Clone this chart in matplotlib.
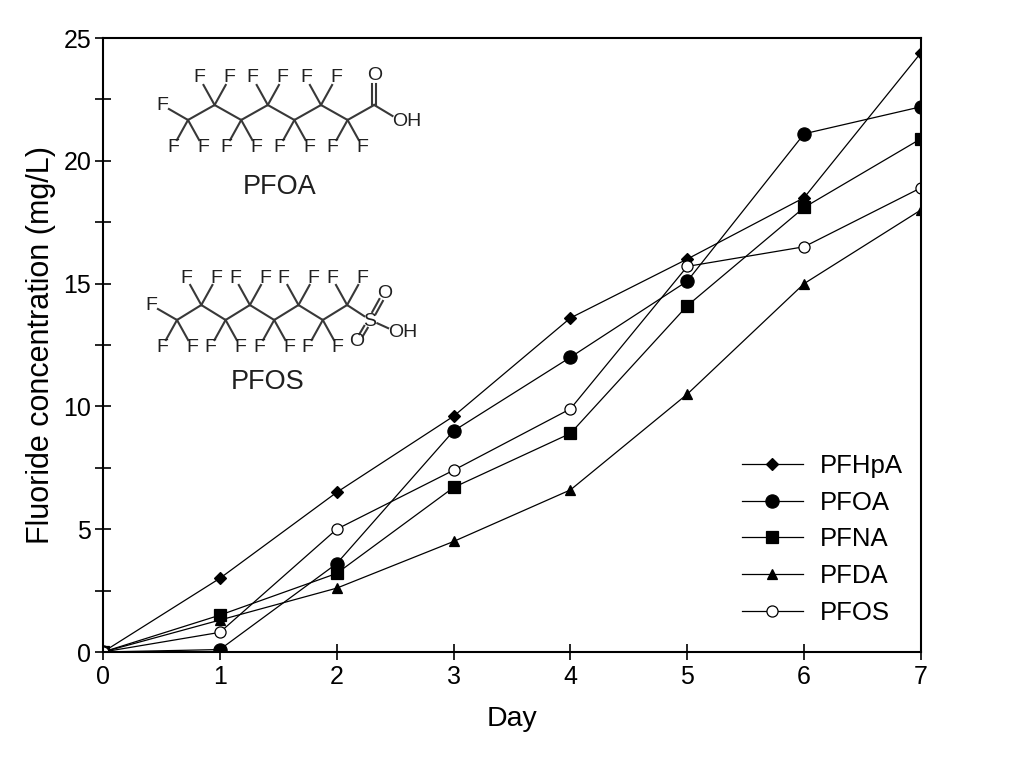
import numpy as np
import matplotlib
matplotlib.use('Agg')
import matplotlib.pyplot as plt
from matplotlib.ticker import MultipleLocator

plt.rcParams['font.family'] = ['Liberation Sans', 'DejaVu Sans']

# Data
days = [0, 1, 2, 3, 4, 5, 6, 7]
pfhpa = [0, 3.0, 6.5, 9.6, 13.6, 16.0, 18.5, 24.4]
pfoa = [0, 0.1, 3.6, 9.0, 12.0, 15.1, 21.1, 22.2]
pfna = [0, 1.5, 3.2, 6.7, 8.9, 14.1, 18.1, 20.9]
pfda = [0, 1.3, 2.6, 4.5, 6.6, 10.5, 15.0, 18.0]
pfos = [0, 0.8, 5.0, 7.4, 9.9, 15.7, 16.5, 18.9]

series_names = ['PFHpA', 'PFOA', 'PFNA', 'PFDA', 'PFOS']
series_values = [pfhpa, pfoa, pfna, pfda, pfos]
markers = ['D', 'o', 's', '^', 'o']
marker_sizes = [6, 9.5, 8.5, 6.5, 8]
face_colors = ['black', 'black', 'black', 'black', 'white']

W, H = 1024, 768
fig = plt.figure(figsize=(W / 100, H / 100), dpi=100)
ax = fig.add_axes([103 / W, 1 - 652 / H, (921 - 103) / W, (652 - 38) / H])

for name, vals, m, ms, fc in zip(series_names, series_values, markers, marker_sizes, face_colors):
    ax.plot(days, vals, color='black', lw=0.9, marker=m, ms=ms,
            mfc=fc, mec='black', mew=0.9, label=name)

ax.set_xlim(0, 7)
ax.set_ylim(0, 25)
ax.xaxis.set_major_locator(MultipleLocator(1))
ax.yaxis.set_major_locator(MultipleLocator(5))
ax.yaxis.set_minor_locator(MultipleLocator(2.5))
ax.tick_params(which='both', direction='inout', length=11, width=1.2,
               labelsize=18, top=False, right=False)
ax.tick_params(axis='x', pad=4)
ax.tick_params(axis='y', pad=3)
for sp in ax.spines.values():
    sp.set_linewidth(1.5)

ax.set_xlabel('Day', fontsize=20.5, labelpad=12)
ax.set_ylabel('Fluoride concentration (mg/L)', fontsize=22, labelpad=5)

ax.legend(loc='lower left', bbox_to_anchor=(0.7686, 0.027), frameon=False,
          fontsize=18.5, handlelength=2.37, handletextpad=0.66,
          labelspacing=0.5, borderaxespad=0, borderpad=0.4)


# ---- chemical structure sketches, drawn in figure pixel coords ----
def px(x, y):
    return x / W, 1 - y / H


def bond(x1, y1, x2, y2, s1=0.0, s2=0.0):
    # line from point 1 to point 2, trimmed by s1/s2 pixels at each end
    d = np.hypot(x2 - x1, y2 - y1)
    ux, uy = (x2 - x1) / d, (y2 - y1) / d
    a = px(x1 + ux * s1, y1 + uy * s1)
    b = px(x2 - ux * s2, y2 - uy * s2)
    fig.add_artist(plt.Line2D([a[0], b[0]], [a[1], b[1]], color='#383838',
                              lw=1.5, transform=fig.transFigure))


def atom(x, y, s, size=14):
    fx, fy = px(x, y)
    fig.text(fx, fy, s, ha='center', va='center', fontsize=size, color='#202020')


def double_bond(x1, y1, x2, y2, s1, s2, off=2.2):
    d = np.hypot(x2 - x1, y2 - y1)
    nx, ny = -(y2 - y1) / d * off, (x2 - x1) / d * off
    bond(x1 + nx, y1 + ny, x2 + nx, y2 + ny, s1, s2)
    bond(x1 - nx, y1 - ny, x2 - nx, y2 - ny, s1, s2)


def fluoro_chain(x0, y0, dx, n):
    # zigzag of n CF carbons, first one "down"; returns carbon positions
    pts = []
    for i in range(n):
        cx = x0 + i * dx
        cy = y0 if i % 2 == 0 else y0 - 15
        pts.append((cx, cy))
    for (xa, ya), (xb, yb) in zip(pts[:-1], pts[1:]):
        bond(xa, ya, xb, yb)
    for i, (cx, cy) in enumerate(pts):
        if i % 2 == 0:
            fs = [(cx - 15, cy + 27), (cx + 15, cy + 27)]
        else:
            fs = [(cx - 15, cy - 27), (cx + 15, cy - 27)]
        if i == 0:
            fs.append((cx - 26, cy - 15))
        for fx, fy in fs:
            bond(cx, cy, fx, fy, 0, 8)
            atom(fx, fy, 'F')
    return pts


# PFOA
pts = fluoro_chain(188, 120, 26.6, 7)
cx, cy = pts[-1]
c8 = (cx + 26.6, cy - 15)
bond(cx, cy, c8[0], c8[1])
double_bond(c8[0], c8[1], c8[0], 75, 0, 9)
atom(c8[0], 75, 'O')
bond(c8[0], c8[1], c8[0] + 20, c8[1] + 12, 0, 2)
atom(c8[0] + 33, 121, 'OH')
atom(280, 187, 'PFOA', size=19.5)

# PFOS
pts = fluoro_chain(177, 320, 24.3, 8)
cx, cy = pts[-1]
sx, sy = cx + 23, cy + 15
bond(cx, cy, sx, sy, 0, 7)
atom(sx, sy + 1, 'S')
double_bond(sx, sy, 385, 293, 8, 8, off=2.0)
atom(385, 293, 'O')
double_bond(sx, sy, 357, 342, 8, 8, off=2.0)
atom(357, 342, 'O')
bond(sx, sy, 390, 329, 8, 2)
atom(403, 332, 'OH')
atom(268, 382, 'PFOS', size=19.5)

fig.savefig('out.png', dpi=100)
